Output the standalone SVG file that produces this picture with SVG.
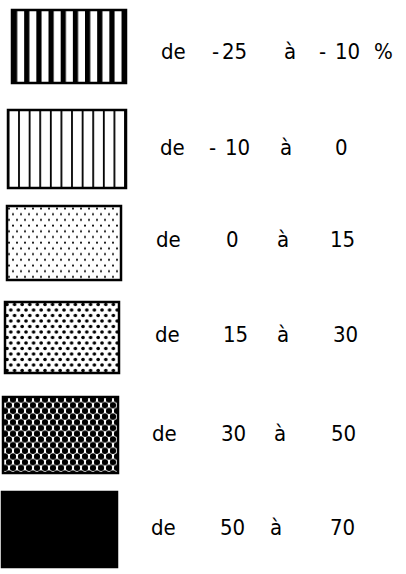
<svg xmlns="http://www.w3.org/2000/svg" width="406" height="574" viewBox="0 0 406 574">
<style>
text{font-family:"DejaVu Sans Condensed","DejaVu Sans",sans-serif;font-size:22px;fill:#000}
.box{stroke:#000;stroke-width:2.5}
</style>
<defs>
<pattern id="p1" patternUnits="userSpaceOnUse" x="12" y="0" width="12.17" height="10"><rect x="0" y="0" width="5.2" height="10" fill="#000"/></pattern>
<pattern id="p2" patternUnits="userSpaceOnUse" x="7.5" y="0" width="10.6" height="10"><rect x="0" y="0" width="1.8" height="10" fill="#000"/></pattern>
<pattern id="p3" patternUnits="userSpaceOnUse" x="7" y="206" width="8" height="11.4"><circle cx="2" cy="2.5" r="1" fill="#000"/><circle cx="6" cy="8.2" r="1" fill="#000"/></pattern>
<pattern id="p4" patternUnits="userSpaceOnUse" x="5" y="302" width="7.6" height="11"><circle cx="2" cy="2.5" r="1.8" fill="#000"/><circle cx="5.8" cy="8" r="1.8" fill="#000"/></pattern>
<pattern id="p5" patternUnits="userSpaceOnUse" x="3" y="397" width="8" height="11.4"><rect width="8" height="11.4" fill="#fff"/><circle cx="2" cy="2.5" r="3.1" fill="#000"/><circle cx="6" cy="8.2" r="3.1" fill="#000"/><circle cx="10" cy="2.5" r="3.1" fill="#000"/><circle cx="-2" cy="8.2" r="3.1" fill="#000"/><circle cx="2" cy="13.9" r="3.1" fill="#000"/><circle cx="10" cy="13.9" r="3.1" fill="#000"/><circle cx="6" cy="-3.2" r="3.1" fill="#000"/></pattern>
</defs>
<g id="legend1">
<rect class="box" x="12" y="10" width="114" height="73" fill="url(#p1)"/>
<text x="161" y="59">de</text><text x="212" y="59">-</text><text x="222" y="59">25</text><text x="284" y="59">à</text><text x="319" y="59">-</text><text x="335" y="59">10</text><text x="374" y="59">%</text>
</g>
<g id="legend2">
<rect class="box" x="8" y="110" width="118" height="78" fill="url(#p2)"/>
<text x="160" y="155">de</text><text x="209" y="155">-</text><text x="225" y="155">10</text><text x="280" y="155">à</text><text x="335" y="155">0</text>
</g>
<g id="legend3">
<rect class="box" x="7" y="206" width="114" height="74" fill="url(#p3)"/>
<text x="156" y="247">de</text><text x="226" y="247">0</text><text x="277" y="247">à</text><text x="330" y="247">15</text>
</g>
<g id="legend4">
<rect class="box" x="5" y="302" width="114" height="71" fill="url(#p4)"/>
<text x="155" y="342">de</text><text x="223" y="342">15</text><text x="277" y="342">à</text><text x="333" y="342">30</text>
</g>
<g id="legend5">
<rect class="box" x="3" y="397" width="115" height="76" fill="url(#p5)"/>
<text x="152" y="441">de</text><text x="221" y="441">30</text><text x="274" y="441">à</text><text x="331" y="441">50</text>
</g>
<g id="legend6">
<rect class="box" x="2" y="492" width="115" height="75" fill="#000"/>
<text x="151" y="535">de</text><text x="220" y="535">50</text><text x="270" y="535">à</text><text x="330" y="535">70</text>
</g>
</svg>
